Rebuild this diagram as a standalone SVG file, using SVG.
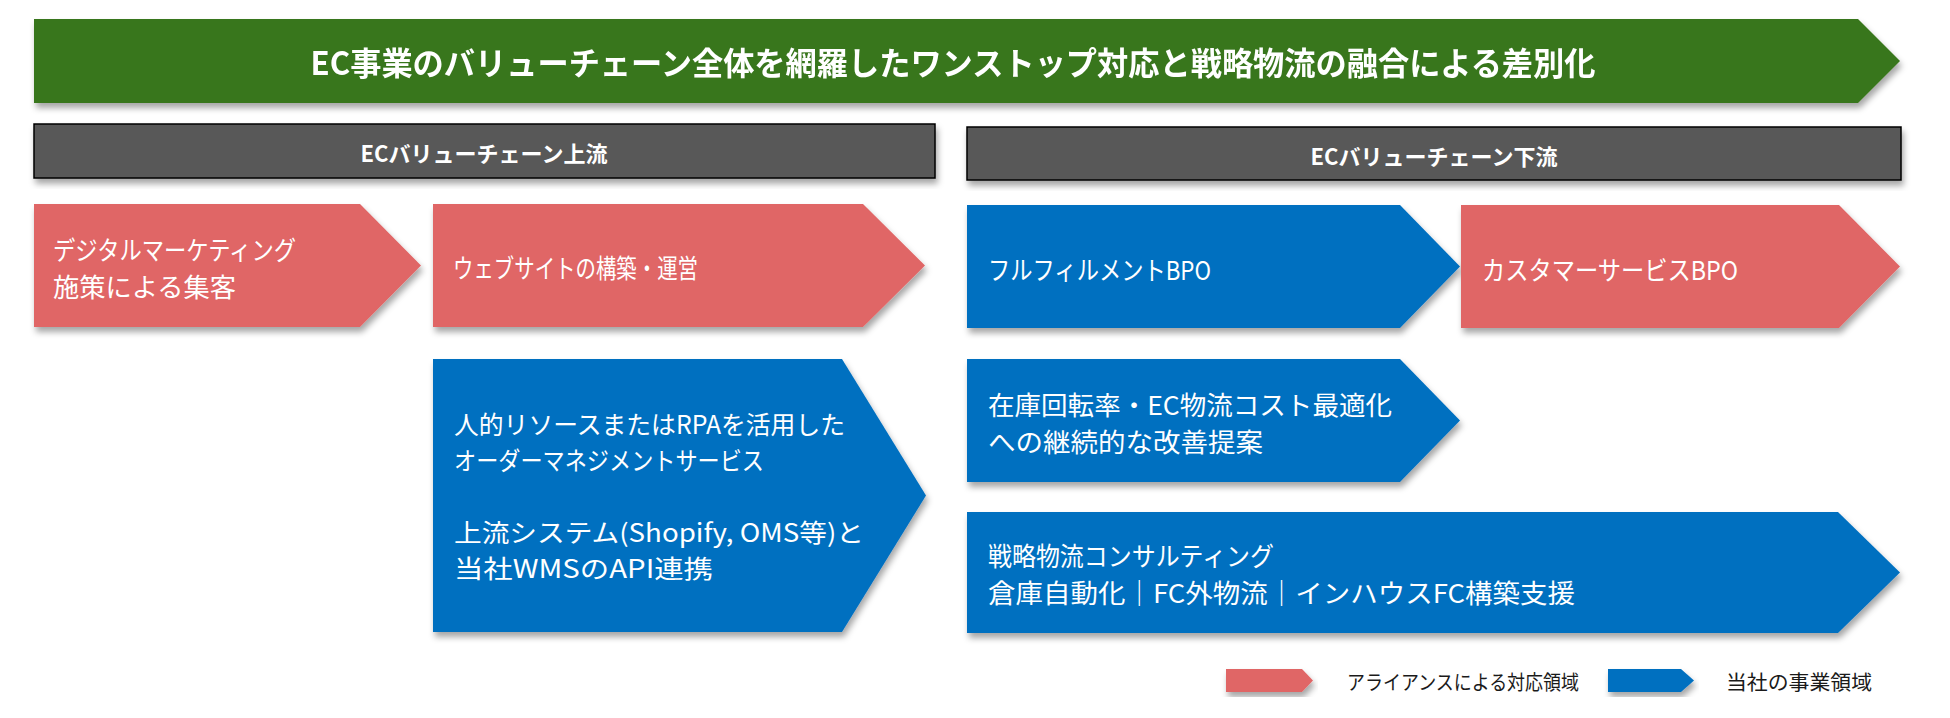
<svg xmlns="http://www.w3.org/2000/svg" width="1950" height="718" viewBox="0 0 1950 718">
<defs>
<filter id="sh" x="-5%" y="-10%" width="110%" height="130%">
<feDropShadow dx="2" dy="5" stdDeviation="3" flood-color="#000" flood-opacity="0.35"/>
</filter>
</defs>
<style>
text{font-family:"Noto Sans CJK JP","Noto Sans",sans-serif;dominant-baseline:central}
.green{fill:#38761D}
.gray{fill:#595959;stroke:#000;stroke-width:1.5}
.pink{fill:#E06666}
.blue{fill:#0070C0}
.title{fill:#fff;font-size:32px;font-weight:700}
.hdr{fill:#fff;font-size:22px;font-weight:700}
.t{fill:#fff;font-size:26px}
.tb{fill:#fff;font-size:25px}
.lg{fill:#1a1a1a;font-size:20px}
</style>
<rect width="1950" height="718" fill="#fff"/>
<g id="banner" filter="url(#sh)">
<polygon class="green" points="34,19 1858,19 1900,61 1858,103 34,103"/>
<text class="title" x="953" y="61" text-anchor="middle" textLength="1285" lengthAdjust="spacingAndGlyphs">EC事業のバリューチェーン全体を網羅したワンストップ対応と戦略物流の融合による差別化</text>
</g>
<g id="hdr-upstream">
<rect class="gray" x="34" y="124" width="901" height="54" filter="url(#sh)"/>
<text class="hdr" x="484" y="152" text-anchor="middle">ECバリューチェーン上流</text>
</g>
<g id="hdr-downstream">
<rect class="gray" x="967" y="127" width="934" height="53" filter="url(#sh)"/>
<text class="hdr" x="1434" y="155" text-anchor="middle">ECバリューチェーン下流</text>
</g>
<g id="node-digital">
<polygon class="pink" points="34,204 360,204 421,265.5 360,327 34,327" filter="url(#sh)"/>
<text class="t" x="53" y="248" textLength="243" lengthAdjust="spacingAndGlyphs">デジタルマーケティング</text>
<text class="t" x="53" y="285" textLength="183" lengthAdjust="spacingAndGlyphs">施策による集客</text>
</g>
<g id="node-website">
<polygon class="pink" points="433,204 863,204 925,265.5 863,327 433,327" filter="url(#sh)"/>
<text class="t" x="453" y="266" textLength="245" lengthAdjust="spacingAndGlyphs">ウェブサイトの構築・運営</text>
</g>
<g id="node-fulfillment">
<polygon class="blue" points="967,205 1400,205 1460,266.5 1400,328 967,328" filter="url(#sh)"/>
<text class="t" x="988" y="268" textLength="223" lengthAdjust="spacingAndGlyphs">フルフィルメントBPO</text>
</g>
<g id="node-customer">
<polygon class="pink" points="1461,205 1839,205 1900,266.5 1839,328 1461,328" filter="url(#sh)"/>
<text class="t" x="1482" y="268" textLength="256" lengthAdjust="spacingAndGlyphs">カスタマーサービスBPO</text>
</g>
<g id="node-order">
<polygon class="blue" points="433,359 842,359 926,495.5 842,632 433,632" filter="url(#sh)"/>
<text class="tb" x="454" y="423" textLength="391" lengthAdjust="spacingAndGlyphs">人的リソースまたはRPAを活用した</text>
<text class="tb" x="454" y="459" textLength="310" lengthAdjust="spacingAndGlyphs">オーダーマネジメントサービス</text>
<text class="tb" x="454" y="531" textLength="410" lengthAdjust="spacingAndGlyphs">上流システム(Shopify, OMS等)と</text>
<text class="tb" x="454" y="567" textLength="259" lengthAdjust="spacingAndGlyphs">当社WMSのAPI連携</text>
</g>
<g id="node-inventory">
<polygon class="blue" points="967,359 1400,359 1460,420.5 1400,482 967,482" filter="url(#sh)"/>
<text class="t" x="988" y="403" textLength="404" lengthAdjust="spacingAndGlyphs">在庫回転率・EC物流コスト最適化</text>
<text class="t" x="988" y="440" textLength="275" lengthAdjust="spacingAndGlyphs">への継続的な改善提案</text>
</g>
<g id="node-consulting">
<polygon class="blue" points="967,512 1838,512 1900,572.5 1838,633 967,633" filter="url(#sh)"/>
<text class="t" x="988" y="554" textLength="286" lengthAdjust="spacingAndGlyphs">戦略物流コンサルティング</text>
<text class="t" x="988" y="591" textLength="587" lengthAdjust="spacingAndGlyphs">倉庫自動化｜FC外物流｜インハウスFC構築支援</text>
</g>
<g id="connectors"></g>
<g id="legend-alliance">
<polygon class="pink" points="1226,669 1302,669 1313,680.5 1302,692 1226,692" filter="url(#sh)"/>
<text class="lg" x="1347" y="681" textLength="232" lengthAdjust="spacingAndGlyphs">アライアンスによる対応領域</text>
</g>
<g id="legend-own">
<polygon class="blue" points="1608,669 1681,669 1694,680.5 1681,692 1608,692" filter="url(#sh)"/>
<text class="lg" x="1726" y="681" textLength="146" lengthAdjust="spacingAndGlyphs">当社の事業領域</text>
</g>
</svg>
